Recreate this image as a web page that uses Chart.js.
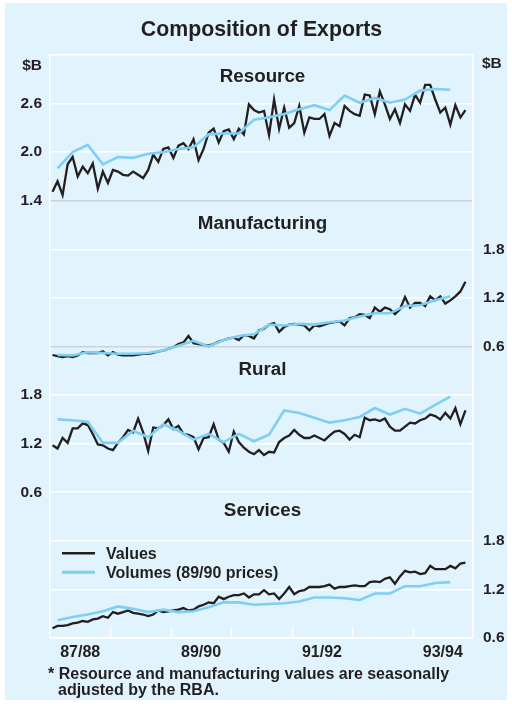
<!DOCTYPE html>
<html>
<head>
<meta charset="utf-8">
<script src="https://cdn.jsdelivr.net/npm/chart.js@4/dist/chart.umd.min.js"></script>
<style>
html,body{margin:0;padding:0;background:#fff;}
#wrap{width:512px;height:704px;}
canvas{display:block;}
</style>
</head>
<body>
<div id="wrap"><canvas id="c" width="512" height="704"></canvas></div>
<script>
// ---------------- DATA ----------------
const chartTitle = 'Composition of Exports';
const unitLabel = '$B';
const yearLabels = ['87/88', '89/90', '91/92', '93/94'];
const panelNames = ['Resource', 'Manufacturing', 'Rural', 'Services'];
const panelTicks = [[1.4, 2.0, 2.6], [0.6, 1.2, 1.8], [0.6, 1.2, 1.8], [0.6, 1.2, 1.8]];
const seriesNames = ['Values', 'Volumes (89/90 prices)'];
const footnote = ['* Resource and manufacturing values are seasonally', 'adjusted by the RBA.'];

// monthly values, July 1987 onwards
const resourceValues = [1.51,1.64,1.47,1.85,1.94,1.70,1.82,1.74,1.86,1.55,
  1.76,1.62,1.78,1.76,1.72,1.71,1.76,1.72,1.68,1.78,
  1.97,1.88,2.04,2.06,1.93,2.08,2.11,2.04,2.16,1.90,
  2.04,2.24,2.29,2.12,2.26,2.28,2.16,2.29,2.22,2.59,
  2.52,2.49,2.51,2.21,2.65,2.29,2.55,2.30,2.36,2.57,
  2.24,2.43,2.41,2.41,2.47,2.20,2.36,2.32,2.57,2.51,
  2.47,2.45,2.71,2.70,2.47,2.75,2.59,2.41,2.53,2.36,
  2.59,2.51,2.71,2.61,2.83,2.83,2.65,2.49,2.55,2.34,
  2.58,2.43,2.52];
const manufacturingValues = [0.495,0.48,0.47,0.48,0.47,0.49,0.53,0.52,0.52,0.52,
  0.54,0.49,0.53,0.50,0.49,0.49,0.49,0.50,0.51,0.51,
  0.52,0.54,0.55,0.57,0.59,0.63,0.65,0.73,0.64,0.63,
  0.62,0.61,0.63,0.66,0.68,0.70,0.71,0.68,0.74,0.73,
  0.70,0.80,0.82,0.87,0.89,0.78,0.84,0.87,0.88,0.87,
  0.86,0.80,0.86,0.85,0.87,0.89,0.90,0.91,0.86,0.95,
  0.96,1.00,0.99,0.95,1.08,1.03,1.08,1.06,1.00,1.06,
  1.21,1.08,1.14,1.14,1.10,1.22,1.17,1.22,1.13,1.17,
  1.22,1.28,1.40];
const ruralValues = [1.18,1.14,1.27,1.21,1.39,1.39,1.45,1.43,1.32,1.19,
  1.18,1.14,1.12,1.21,1.28,1.37,1.34,1.51,1.34,1.11,
  1.40,1.39,1.43,1.50,1.38,1.42,1.32,1.31,1.28,1.13,
  1.27,1.28,1.44,1.25,1.21,1.10,1.35,1.22,1.15,1.10,
  1.07,1.12,1.06,1.10,1.09,1.22,1.27,1.30,1.37,1.31,
  1.27,1.27,1.30,1.27,1.24,1.30,1.35,1.36,1.32,1.25,
  1.31,1.28,1.52,1.49,1.50,1.48,1.51,1.41,1.36,1.36,
  1.41,1.46,1.45,1.49,1.51,1.56,1.54,1.50,1.58,1.51,
  1.64,1.44,1.61];
const servicesValues = [0.72,0.75,0.75,0.76,0.78,0.79,0.81,0.80,0.83,0.84,
  0.87,0.85,0.92,0.90,0.92,0.94,0.91,0.90,0.89,0.87,
  0.89,0.94,0.92,0.93,0.94,0.95,0.97,0.94,0.95,0.99,
  1.01,1.04,1.03,1.11,1.08,1.11,1.13,1.13,1.15,1.10,
  1.14,1.14,1.19,1.14,1.15,1.08,1.15,1.23,1.14,1.18,
  1.19,1.23,1.23,1.23,1.24,1.26,1.21,1.23,1.23,1.24,
  1.25,1.24,1.24,1.29,1.30,1.29,1.33,1.35,1.27,1.36,
  1.43,1.41,1.42,1.39,1.40,1.49,1.45,1.45,1.45,1.49,
  1.46,1.52,1.53];

// quarterly volumes (89/90 prices), September quarter 1987 onwards
const resourceVolumes = [1.80,2.00,2.09,1.85,1.94,1.93,1.98,2.00,2.04,2.06,2.22,2.23,2.23,2.40,2.43,2.47,2.53,2.58,2.52,2.70,2.61,2.67,2.61,2.65,2.76,2.78,2.77];
const manufacturingVolumes = [0.495,0.49,0.53,0.52,0.51,0.51,0.52,0.55,0.61,0.67,0.60,0.68,0.73,0.75,0.87,0.86,0.88,0.87,0.90,0.92,0.97,1.01,1.01,1.10,1.11,1.17,1.22];
const ruralVolumes = [1.50,1.49,1.47,1.21,1.21,1.36,1.28,1.44,1.36,1.25,1.32,1.22,1.32,1.23,1.31,1.61,1.58,1.52,1.46,1.49,1.53,1.64,1.56,1.63,1.57,1.68,1.78];
const servicesVolumes = [0.82,0.86,0.89,0.93,0.99,0.96,0.92,0.95,0.92,0.93,0.98,1.04,1.04,1.01,1.02,1.03,1.05,1.10,1.10,1.09,1.07,1.15,1.15,1.24,1.24,1.28,1.29];

// ---------------- CHART ----------------
const valueSeries = [resourceValues, manufacturingValues, ruralValues, servicesValues];
const volumeSeries = [resourceVolumes, manufacturingVolumes, ruralVolumes, servicesVolumes];
const panelSide = ['left', 'right', 'left', 'right'];
const SPAN = 1.8;
const NP = panelNames.length;
const panelBottom = panelTicks.map(t => t[0]);
const frameVal = (i, v) => (NP - 1 - i) * SPAN + (v - panelBottom[i]);

const BLACK = '#231f20';
const BLUE = '#7fcff3';
const BG = '#e1f3fc';
const FONT = '"Liberation Sans", Arial, Helvetica, sans-serif';
const font = (s) => `bold ${s}px ${FONT}`;

const datasets = [];
for (let i = 0; i < NP; i++) {
  datasets.push({
    label: seriesNames[0],
    data: valueSeries[i].map((v, m) => ({ x: m + 0.5, y: v })),
    yAxisID: 'p' + i, borderColor: BLACK, borderWidth: 2.3,
    pointRadius: 0, fill: false, clip: false, order: 2
  });
  datasets.push({
    label: seriesNames[1],
    data: volumeSeries[i].map((v, q) => ({ x: 1.5 + 3 * q, y: v })),
    yAxisID: 'p' + i, borderColor: BLUE, borderWidth: 2.6,
    pointRadius: 0, fill: false, clip: false, order: 1
  });
}

function sideTicks(side) {
  const ticks = [];
  if (side === 'left') ticks.push({ value: NP * SPAN, lbl: '', grey: false });
  for (let i = 0; i < NP; i++) {
    if (panelSide[i] !== side) continue;
    panelTicks[i].forEach((v, k) => {
      ticks.push({ value: frameVal(i, v), lbl: v.toFixed(1), grey: k === 0 && i < 2 });
    });
  }
  return ticks.sort((a, b) => a.value - b.value);
}

function frameAxis(side, width, pad) {
  return {
    type: 'linear', position: side, min: 0, max: NP * SPAN,
    afterBuildTicks: s => { s.ticks = sideTicks(side); },
    afterFit: s => { s.width = width; },
    grid: {
      drawTicks: false, tickLength: 0, lineWidth: 1.6,
      color: c => (c.tick && c.tick.grey) ? '#cdd2d6' : '#ffffff'
    },
    border: { display: true, color: '#ffffff', width: 1.6 },
    ticks: {
      autoSkip: false, padding: pad, color: BLACK, font: { family: FONT, size: 15.5, weight: 'bold' },
      callback: (v, idx, t) => t[idx].lbl
    }
  };
}

const scales = {
  x: {
    type: 'linear', position: 'bottom', min: 0, max: 84,
    afterBuildTicks: s => { s.ticks = yearLabels.map((l, i) => ({ value: 6 + 24 * i })); },
    afterFit: s => { s.height = 30; },
    grid: { display: false, drawTicks: false },
    border: { display: true, color: '#ffffff', width: 1.6 },
    ticks: {
      autoSkip: false, maxRotation: 0, padding: 5, color: BLACK,
      font: { family: FONT, size: 16, weight: 'bold' },
      callback: (v, idx) => yearLabels[idx]
    }
  },
  yL: frameAxis('left', 50, 8),
  yR: frameAxis('right', 39, 10)
};
for (let i = 0; i < NP; i++) {
  const mn = panelBottom[i] - (NP - 1 - i) * SPAN;
  scales['p' + i] = { type: 'linear', display: false, min: mn, max: mn + NP * SPAN };
}

const deco = {
  id: 'deco',
  beforeDraw(chart) {
    const c = chart.ctx;
    c.save();
    c.fillStyle = '#ffffff';
    c.fillRect(0, 0, chart.width, chart.height);
    c.fillStyle = BG;
    c.fillRect(5, 3, chart.width - 10, chart.height - 7);
    c.restore();
  },
  beforeDatasetsDraw(chart) {
    const c = chart.ctx, xs = chart.scales.x, a = chart.chartArea;
    c.save();
    c.strokeStyle = '#ffffff';
    c.lineWidth = 1.6;
    for (let m = 12; m < 84; m += 12) {
      const px = Math.round(xs.getPixelForValue(m)) + 0.5;
      c.beginPath();
      c.moveTo(px, a.bottom);
      c.lineTo(px, a.bottom - 11);
      c.stroke();
    }
    c.restore();
  },
  afterDraw(chart) {
    const c = chart.ctx, a = chart.chartArea, yL = chart.scales.yL;
    const cx = (a.left + a.right) / 2;
    c.save();
    c.fillStyle = BLACK;
    c.textBaseline = 'middle';
    // title
    c.textAlign = 'center';
    c.font = font(21.3);
    c.fillText(chartTitle, cx, 30);
    // units
    c.font = font(15.5);
    c.textAlign = 'right';
    c.fillText(unitLabel, a.left - 8, a.top + 11);
    c.textAlign = 'left';
    c.fillText(unitLabel, a.right + 9, a.top + 9);
    // panel names
    c.textAlign = 'center';
    c.font = font(18.8);
    const nameOff = [22, 23, 23, 19];
    for (let i = 0; i < NP; i++) {
      const top = yL.getPixelForValue(frameVal(i, panelBottom[i] + SPAN));
      c.fillText(panelNames[i], cx + 1, top + nameOff[i]);
    }
    // legend (inside services panel)
    const sTop = yL.getPixelForValue(frameVal(NP - 1, panelBottom[NP - 1] + SPAN));
    const leg = [datasets[2 * (NP - 1)], datasets[2 * (NP - 1) + 1]];
    c.font = font(16);
    c.textAlign = 'left';
    leg.forEach((d, k) => {
      const ly = sTop + 61 + k * 19;
      c.strokeStyle = d.borderColor;
      c.lineWidth = k === 0 ? 2.6 : 2.8;
      c.beginPath();
      c.moveTo(a.left + 12, ly);
      c.lineTo(a.left + 45, ly);
      c.stroke();
      c.fillText(d.label, a.left + 56, ly + 1.5);
    });
    // footnote
    c.font = font(16);
    c.fillText(footnote[0], 48, 675);
    c.fillText(footnote[1], 58, 691);
    c.restore();
  }
};

new Chart(document.getElementById('c').getContext('2d'), {
  type: 'line',
  data: { datasets },
  options: {
    responsive: false, animation: false, devicePixelRatio: 1,
    layout: { padding: { top: 55, bottom: 36, left: 0, right: 0 } },
    plugins: { legend: { display: false }, tooltip: { enabled: false }, title: { display: false } },
    elements: { line: { tension: 0, borderJoinStyle: 'miter', borderCapStyle: 'butt' }, point: { radius: 0 } },
    scales
  },
  plugins: [deco]
});
</script>
</body>
</html>
